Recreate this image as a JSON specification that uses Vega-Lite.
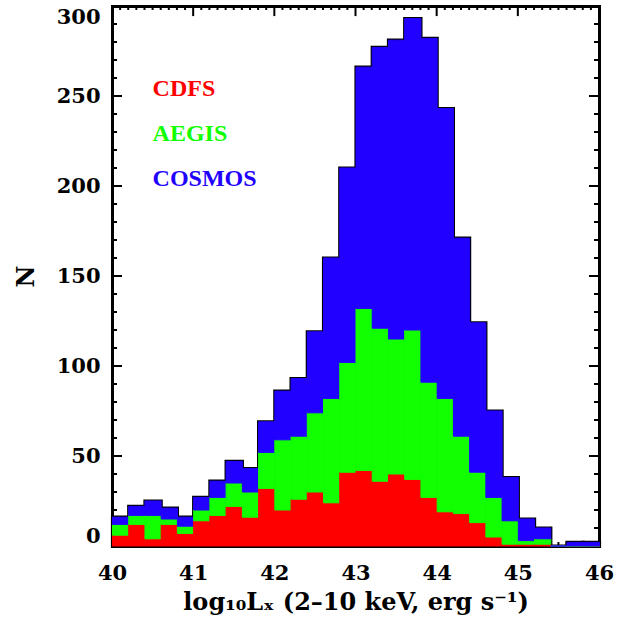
{
  "$schema": "https://vega.github.io/schema/vega-lite/v6.json",
  "width": 487,
  "height": 540,
  "autosize": {"type": "none"},
  "padding": {"left": 112, "top": 6, "right": 31, "bottom": 79},
  "background": "white",
  "config": {
    "view": {"stroke": null, "fill": null},
    "axis": {
      "grid": false,
      "zindex": 1,
      "domainColor": "black",
      "domainWidth": 3,
      "domainCap": "square",
      "labelColor": "black",
      "labelFont": "DejaVu Serif",
      "labelFontWeight": "bold",
      "labelFontSize": 21,
      "labelOverlap": false,
      "titleColor": "black",
      "titleFont": "DejaVu Serif",
      "titleFontWeight": "bold",
      "titleFontSize": 24
    },
    "rule": {"color": "black", "strokeWidth": 2}
  },
  "datasets": {
    "counts": [
      {"lo": 40.0, "hi": 40.2, "survey": "CDFS", "n": 6}, {"lo": 40.0, "hi": 40.2, "survey": "AEGIS", "n": 6}, {"lo": 40.0, "hi": 40.2, "survey": "COSMOS", "n": 4},
      {"lo": 40.2, "hi": 40.4, "survey": "CDFS", "n": 12}, {"lo": 40.2, "hi": 40.4, "survey": "AEGIS", "n": 5}, {"lo": 40.2, "hi": 40.4, "survey": "COSMOS", "n": 5},
      {"lo": 40.4, "hi": 40.6, "survey": "CDFS", "n": 4}, {"lo": 40.4, "hi": 40.6, "survey": "AEGIS", "n": 13}, {"lo": 40.4, "hi": 40.6, "survey": "COSMOS", "n": 8},
      {"lo": 40.6, "hi": 40.8, "survey": "CDFS", "n": 12}, {"lo": 40.6, "hi": 40.8, "survey": "AEGIS", "n": 3}, {"lo": 40.6, "hi": 40.8, "survey": "COSMOS", "n": 6},
      {"lo": 40.8, "hi": 41.0, "survey": "CDFS", "n": 7}, {"lo": 40.8, "hi": 41.0, "survey": "AEGIS", "n": 4}, {"lo": 40.8, "hi": 41.0, "survey": "COSMOS", "n": 5},
      {"lo": 41.0, "hi": 41.2, "survey": "CDFS", "n": 14}, {"lo": 41.0, "hi": 41.2, "survey": "AEGIS", "n": 6}, {"lo": 41.0, "hi": 41.2, "survey": "COSMOS", "n": 7},
      {"lo": 41.2, "hi": 41.4, "survey": "CDFS", "n": 17}, {"lo": 41.2, "hi": 41.4, "survey": "AEGIS", "n": 10}, {"lo": 41.2, "hi": 41.4, "survey": "COSMOS", "n": 9},
      {"lo": 41.4, "hi": 41.6, "survey": "CDFS", "n": 22}, {"lo": 41.4, "hi": 41.6, "survey": "AEGIS", "n": 13}, {"lo": 41.4, "hi": 41.6, "survey": "COSMOS", "n": 12},
      {"lo": 41.6, "hi": 41.8, "survey": "CDFS", "n": 16}, {"lo": 41.6, "hi": 41.8, "survey": "AEGIS", "n": 14}, {"lo": 41.6, "hi": 41.8, "survey": "COSMOS", "n": 13},
      {"lo": 41.8, "hi": 42.0, "survey": "CDFS", "n": 32}, {"lo": 41.8, "hi": 42.0, "survey": "AEGIS", "n": 20}, {"lo": 41.8, "hi": 42.0, "survey": "COSMOS", "n": 17},
      {"lo": 42.0, "hi": 42.2, "survey": "CDFS", "n": 20}, {"lo": 42.0, "hi": 42.2, "survey": "AEGIS", "n": 39}, {"lo": 42.0, "hi": 42.2, "survey": "COSMOS", "n": 27},
      {"lo": 42.2, "hi": 42.4, "survey": "CDFS", "n": 26}, {"lo": 42.2, "hi": 42.4, "survey": "AEGIS", "n": 35}, {"lo": 42.2, "hi": 42.4, "survey": "COSMOS", "n": 32},
      {"lo": 42.4, "hi": 42.6, "survey": "CDFS", "n": 30}, {"lo": 42.4, "hi": 42.6, "survey": "AEGIS", "n": 44}, {"lo": 42.4, "hi": 42.6, "survey": "COSMOS", "n": 45},
      {"lo": 42.6, "hi": 42.8, "survey": "CDFS", "n": 24}, {"lo": 42.6, "hi": 42.8, "survey": "AEGIS", "n": 58}, {"lo": 42.6, "hi": 42.8, "survey": "COSMOS", "n": 78},
      {"lo": 42.8, "hi": 43.0, "survey": "CDFS", "n": 41}, {"lo": 42.8, "hi": 43.0, "survey": "AEGIS", "n": 61}, {"lo": 42.8, "hi": 43.0, "survey": "COSMOS", "n": 108},
      {"lo": 43.0, "hi": 43.2, "survey": "CDFS", "n": 42}, {"lo": 43.0, "hi": 43.2, "survey": "AEGIS", "n": 90}, {"lo": 43.0, "hi": 43.2, "survey": "COSMOS", "n": 134},
      {"lo": 43.2, "hi": 43.4, "survey": "CDFS", "n": 36}, {"lo": 43.2, "hi": 43.4, "survey": "AEGIS", "n": 85}, {"lo": 43.2, "hi": 43.4, "survey": "COSMOS", "n": 156},
      {"lo": 43.4, "hi": 43.6, "survey": "CDFS", "n": 40}, {"lo": 43.4, "hi": 43.6, "survey": "AEGIS", "n": 75}, {"lo": 43.4, "hi": 43.6, "survey": "COSMOS", "n": 166},
      {"lo": 43.6, "hi": 43.8, "survey": "CDFS", "n": 37}, {"lo": 43.6, "hi": 43.8, "survey": "AEGIS", "n": 83}, {"lo": 43.6, "hi": 43.8, "survey": "COSMOS", "n": 173},
      {"lo": 43.8, "hi": 44.0, "survey": "CDFS", "n": 27}, {"lo": 43.8, "hi": 44.0, "survey": "AEGIS", "n": 64}, {"lo": 43.8, "hi": 44.0, "survey": "COSMOS", "n": 191},
      {"lo": 44.0, "hi": 44.2, "survey": "CDFS", "n": 19}, {"lo": 44.0, "hi": 44.2, "survey": "AEGIS", "n": 63}, {"lo": 44.0, "hi": 44.2, "survey": "COSMOS", "n": 161},
      {"lo": 44.2, "hi": 44.4, "survey": "CDFS", "n": 18}, {"lo": 44.2, "hi": 44.4, "survey": "AEGIS", "n": 43}, {"lo": 44.2, "hi": 44.4, "survey": "COSMOS", "n": 110},
      {"lo": 44.4, "hi": 44.6, "survey": "CDFS", "n": 13}, {"lo": 44.4, "hi": 44.6, "survey": "AEGIS", "n": 28}, {"lo": 44.4, "hi": 44.6, "survey": "COSMOS", "n": 83},
      {"lo": 44.6, "hi": 44.8, "survey": "CDFS", "n": 5}, {"lo": 44.6, "hi": 44.8, "survey": "AEGIS", "n": 22}, {"lo": 44.6, "hi": 44.8, "survey": "COSMOS", "n": 48},
      {"lo": 44.8, "hi": 45.0, "survey": "CDFS", "n": 1}, {"lo": 44.8, "hi": 45.0, "survey": "AEGIS", "n": 13}, {"lo": 44.8, "hi": 45.0, "survey": "COSMOS", "n": 24},
      {"lo": 45.0, "hi": 45.2, "survey": "CDFS", "n": 1}, {"lo": 45.0, "hi": 45.2, "survey": "AEGIS", "n": 2}, {"lo": 45.0, "hi": 45.2, "survey": "COSMOS", "n": 12},
      {"lo": 45.2, "hi": 45.4, "survey": "CDFS", "n": 1}, {"lo": 45.2, "hi": 45.4, "survey": "AEGIS", "n": 3}, {"lo": 45.2, "hi": 45.4, "survey": "COSMOS", "n": 6},
      {"lo": 45.4, "hi": 45.6, "survey": "CDFS", "n": 0}, {"lo": 45.4, "hi": 45.6, "survey": "AEGIS", "n": 0}, {"lo": 45.4, "hi": 45.6, "survey": "COSMOS", "n": 0},
      {"lo": 45.6, "hi": 45.8, "survey": "CDFS", "n": 0}, {"lo": 45.6, "hi": 45.8, "survey": "AEGIS", "n": 0}, {"lo": 45.6, "hi": 45.8, "survey": "COSMOS", "n": 2},
      {"lo": 45.8, "hi": 46.0, "survey": "CDFS", "n": 0}, {"lo": 45.8, "hi": 46.0, "survey": "AEGIS", "n": 0}, {"lo": 45.8, "hi": 46.0, "survey": "COSMOS", "n": 2}
    ],
    "xMajor": [{"v": 40}, {"v": 41}, {"v": 42}, {"v": 43}, {"v": 44}, {"v": 45}, {"v": 46}],
    "xMinor": [
      {"v": 40.1}, {"v": 40.2}, {"v": 40.3}, {"v": 40.4}, {"v": 40.5}, {"v": 40.6}, {"v": 40.7}, {"v": 40.8}, {"v": 40.9},
      {"v": 41.1}, {"v": 41.2}, {"v": 41.3}, {"v": 41.4}, {"v": 41.5}, {"v": 41.6}, {"v": 41.7}, {"v": 41.8}, {"v": 41.9},
      {"v": 42.1}, {"v": 42.2}, {"v": 42.3}, {"v": 42.4}, {"v": 42.5}, {"v": 42.6}, {"v": 42.7}, {"v": 42.8}, {"v": 42.9},
      {"v": 43.1}, {"v": 43.2}, {"v": 43.3}, {"v": 43.4}, {"v": 43.5}, {"v": 43.6}, {"v": 43.7}, {"v": 43.8}, {"v": 43.9},
      {"v": 44.1}, {"v": 44.2}, {"v": 44.3}, {"v": 44.4}, {"v": 44.5}, {"v": 44.6}, {"v": 44.7}, {"v": 44.8}, {"v": 44.9},
      {"v": 45.1}, {"v": 45.2}, {"v": 45.3}, {"v": 45.4}, {"v": 45.5}, {"v": 45.6}, {"v": 45.7}, {"v": 45.8}, {"v": 45.9}
    ],
    "yMajor": [{"v": 0}, {"v": 50}, {"v": 100}, {"v": 150}, {"v": 200}, {"v": 250}, {"v": 300}],
    "yMinor": [
      {"v": 10}, {"v": 20}, {"v": 30}, {"v": 40}, {"v": 60}, {"v": 70}, {"v": 80}, {"v": 90},
      {"v": 110}, {"v": 120}, {"v": 130}, {"v": 140}, {"v": 160}, {"v": 170}, {"v": 180}, {"v": 190},
      {"v": 210}, {"v": 220}, {"v": 230}, {"v": 240}, {"v": 260}, {"v": 270}, {"v": 280}, {"v": 290}
    ]
  },
  "resolve": {
    "scale": {"x": "shared", "y": "shared"},
    "axis": {"x": "independent", "y": "independent"}
  },
  "layer": [
    {
      "description": "Major ticks pointing down from the top edge",
      "data": {"name": "xMajor"},
      "mark": {"type": "rule"},
      "encoding": {
        "x": {"field": "v", "type": "quantitative", "axis": null},
        "y": {"datum": 300, "type": "quantitative", "axis": null},
        "y2": {"datum": 294.4}
      }
    },
    {
      "description": "Minor ticks pointing down from the top edge",
      "data": {"name": "xMinor"},
      "mark": {"type": "rule"},
      "encoding": {
        "x": {"field": "v", "type": "quantitative", "axis": null},
        "y": {"datum": 300, "type": "quantitative", "axis": null},
        "y2": {"datum": 297.8}
      }
    },
    {
      "description": "Major ticks pointing up from the bottom edge (hidden where bars stand)",
      "data": {"name": "xMajor"},
      "mark": {"type": "rule"},
      "encoding": {
        "x": {"field": "v", "type": "quantitative", "axis": null},
        "y": {"datum": 0, "type": "quantitative", "axis": null},
        "y2": {"datum": 5.6}
      }
    },
    {
      "description": "Minor ticks pointing up from the bottom edge",
      "data": {"name": "xMinor"},
      "mark": {"type": "rule"},
      "encoding": {
        "x": {"field": "v", "type": "quantitative", "axis": null},
        "y": {"datum": 0, "type": "quantitative", "axis": null},
        "y2": {"datum": 2.2}
      }
    },
    {
      "description": "Major ticks pointing right from the left edge",
      "data": {"name": "yMajor"},
      "mark": {"type": "rule"},
      "encoding": {
        "y": {"field": "v", "type": "quantitative", "axis": null},
        "x": {"datum": 40, "type": "quantitative", "axis": null},
        "x2": {"datum": 40.123}
      }
    },
    {
      "description": "Minor ticks pointing right from the left edge",
      "data": {"name": "yMinor"},
      "mark": {"type": "rule"},
      "encoding": {
        "y": {"field": "v", "type": "quantitative", "axis": null},
        "x": {"datum": 40, "type": "quantitative", "axis": null},
        "x2": {"datum": 40.062}
      }
    },
    {
      "description": "Major ticks pointing left from the right edge",
      "data": {"name": "yMajor"},
      "mark": {"type": "rule"},
      "encoding": {
        "y": {"field": "v", "type": "quantitative", "axis": null},
        "x": {"datum": 46, "type": "quantitative", "axis": null},
        "x2": {"datum": 45.877}
      }
    },
    {
      "description": "Minor ticks pointing left from the right edge",
      "data": {"name": "yMinor"},
      "mark": {"type": "rule"},
      "encoding": {
        "y": {"field": "v", "type": "quantitative", "axis": null},
        "x": {"datum": 46, "type": "quantitative", "axis": null},
        "x2": {"datum": 45.938}
      }
    },
    {
      "description": "Histogram envelope: total per bin, black outline under the stacked fills; labelled bottom and left axes",
      "data": {"name": "counts"},
      "transform": [
        {"aggregate": [{"op": "sum", "field": "n", "as": "total"}], "groupby": ["lo", "hi"]}
      ],
      "mark": {"type": "bar", "fill": "white", "stroke": "black", "strokeWidth": 3.2, "binSpacing": 0},
      "encoding": {
        "x": {
          "field": "lo", "type": "quantitative",
          "bin": {"binned": true, "step": 0.2},
          "scale": {"domain": [40, 46], "nice": false, "zero": false},
          "axis": {
            "orient": "bottom",
            "values": [40, 41, 42, 43, 44, 45, 46],
            "format": "d",
            "ticks": false,
            "labelFlush": false,
            "labelPadding": 16,
            "title": "log₁₀Lₓ (2–10 keV, erg s⁻¹)",
            "titlePadding": 7
          }
        },
        "x2": {"field": "hi"},
        "y": {
          "field": "total", "type": "quantitative",
          "scale": {"domain": [0, 300], "nice": false},
          "axis": {
            "orient": "left",
            "values": [0, 50, 100, 150, 200, 250, 300],
            "format": "d",
            "ticks": false,
            "labelFlush": true,
            "labelFlushOffset": 0,
            "labelPadding": 12,
            "title": "N",
            "titlePadding": 18
          }
        }
      }
    },
    {
      "description": "Stacked counts per survey; its axes draw the top and right frame lines",
      "data": {"name": "counts"},
      "transform": [
        {"calculate": "indexof(['CDFS', 'AEGIS', 'COSMOS'], datum.survey)", "as": "stackRank"}
      ],
      "mark": {"type": "bar", "binSpacing": 0, "strokeWidth": 1},
      "encoding": {
        "x": {
          "field": "lo", "type": "quantitative",
          "bin": {"binned": true, "step": 0.2},
          "axis": {"orient": "bottom", "offset": -540, "ticks": false, "labels": false, "title": null}
        },
        "x2": {"field": "hi"},
        "y": {
          "field": "n", "type": "quantitative", "stack": "zero",
          "axis": {"orient": "left", "offset": -487, "ticks": false, "labels": false, "title": null}
        },
        "color": {
          "field": "survey", "type": "nominal",
          "scale": {"domain": ["CDFS", "AEGIS", "COSMOS"], "range": ["#ff0000", "#11ff00", "#2200ff"]},
          "legend": null
        },
        "stroke": {
          "field": "survey", "type": "nominal",
          "scale": {"domain": ["CDFS", "AEGIS", "COSMOS"], "range": ["#ff0000", "#11ff00", "#2200ff"]},
          "legend": null
        },
        "order": {"field": "stackRank", "type": "quantitative", "sort": "ascending"}
      }
    },
    {
      "data": {"values": [{}]},
      "mark": {"type": "text", "align": "left", "baseline": "alphabetic", "font": "Liberation Serif", "fontWeight": "bold", "fontSize": 24, "color": "#ff0000"},
      "encoding": {
        "x": {"datum": 40.5, "type": "quantitative", "axis": null},
        "y": {"datum": 250, "type": "quantitative", "axis": null},
        "text": {"value": "CDFS"}
      }
    },
    {
      "data": {"values": [{}]},
      "mark": {"type": "text", "align": "left", "baseline": "alphabetic", "font": "Liberation Serif", "fontWeight": "bold", "fontSize": 24, "color": "#11ff00"},
      "encoding": {
        "x": {"datum": 40.5, "type": "quantitative", "axis": null},
        "y": {"datum": 225, "type": "quantitative", "axis": null},
        "text": {"value": "AEGIS"}
      }
    },
    {
      "data": {"values": [{}]},
      "mark": {"type": "text", "align": "left", "baseline": "alphabetic", "font": "Liberation Serif", "fontWeight": "bold", "fontSize": 24, "color": "#2200ff"},
      "encoding": {
        "x": {"datum": 40.5, "type": "quantitative", "axis": null},
        "y": {"datum": 200, "type": "quantitative", "axis": null},
        "text": {"value": "COSMOS"}
      }
    }
  ]
}
